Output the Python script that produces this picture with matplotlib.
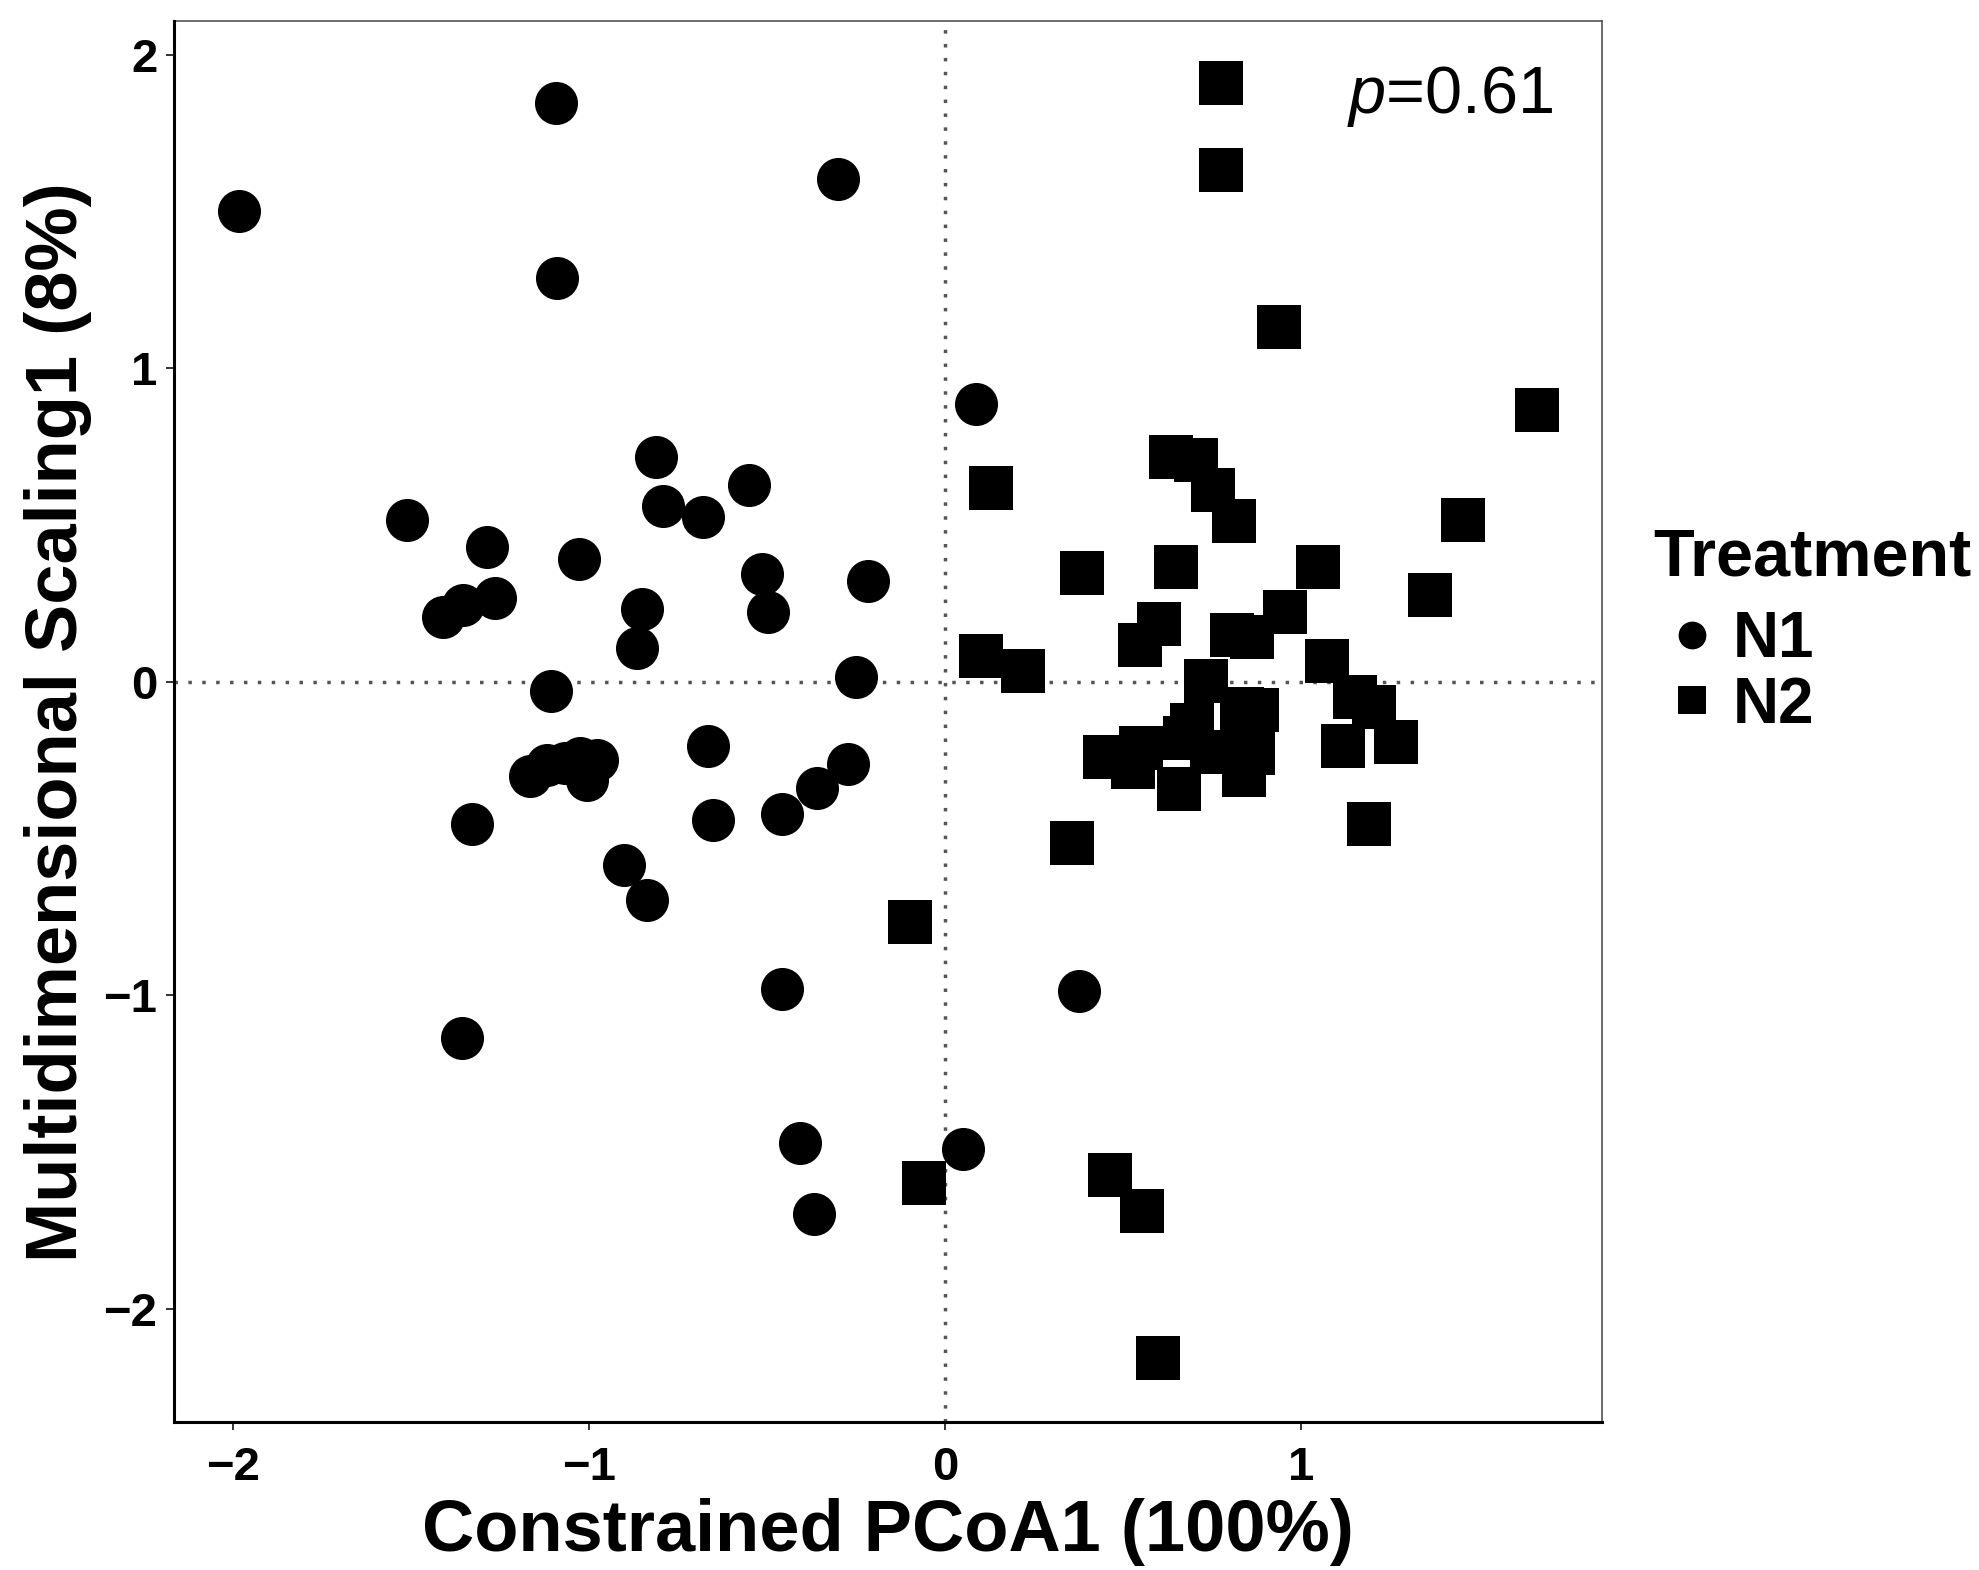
import matplotlib
matplotlib.use('Agg')
import matplotlib.pyplot as plt
from matplotlib.lines import Line2D
import numpy as np

plt.rcParams['font.family'] = ['Liberation Sans', 'DejaVu Sans']
plt.rcParams['mathtext.fontset'] = 'custom'
plt.rcParams['mathtext.it'] = 'Liberation Sans:italic'
plt.rcParams['mathtext.rm'] = 'Liberation Sans'

###############################################################################
# Data
###############################################################################
n1_x = [-1.984, -1.094, -1.089, -0.301, 0.086, -1.510, -1.287, -1.409, -1.355,
        -1.264, -1.029, -0.813, -0.792, -0.681, -0.551, -0.513, -0.497, -0.851,
        -0.864, -0.215, -0.249, -1.108, -1.166, -1.119, -1.067, -1.025, -0.978,
        -1.006, -1.328, -0.665, -0.652, -0.457, -0.361, -0.272, -0.902, -0.837,
        -0.457, -1.358, 0.376, -0.407, -0.367, 0.051]
n1_y = [1.501, 1.845, 1.287, 1.604, 0.886, 0.516, 0.430, 0.208, 0.244,
        0.266, 0.390, 0.718, 0.561, 0.526, 0.627, 0.345, 0.221, 0.233,
        0.109, 0.322, 0.016, -0.028, -0.301, -0.265, -0.260, -0.244, -0.250,
        -0.313, -0.455, -0.205, -0.442, -0.423, -0.338, -0.262, -0.584, -0.695,
        -0.979, -1.136, -0.988, -1.471, -1.697, -1.490]
n2_x = [0.774, 0.774, 0.939, 1.663, 0.129, 0.635, 0.705, 0.753, 0.813, 1.455,
        0.384, 0.649, 1.047, 1.362, 0.600, 0.547, 0.805, 0.863, 0.954, 1.073,
        0.734, 1.151, 1.205, 1.117, 1.267, 0.833, 0.876, 0.695, 0.675, 0.751,
        0.866, 0.449, 0.551, 0.527, 0.657, 0.840, 1.192,
        0.100, 0.218, 0.357, -0.099, -0.059, 0.463, 0.554, 0.598]
n2_y = [1.910, 1.632, 1.132, 0.866, 0.618, 0.716, 0.706, 0.613, 0.514, 0.516,
        0.346, 0.367, 0.367, 0.278, 0.184, 0.116, 0.150, 0.144, 0.224, 0.066,
        0.002, -0.049, -0.080, -0.206, -0.192, -0.086, -0.089, -0.138, -0.180, -0.223,
        -0.228, -0.241, -0.211, -0.273, -0.341, -0.297, -0.454,
        0.083, 0.035, -0.513, -0.766, -1.598, -1.575, -1.689, -2.159]
groups = ['N1', 'N2']
p_label = r'$\mathit{p}$=0.61'
x_title = 'Constrained PCoA1 (100%)'
y_title = 'Multidimensional Scaling1 (8%)'
x_ticks = [-2, -1, 0, 1]
y_ticks = [-2, -1, 0, 1, 2]

###############################################################################
# Plot
###############################################################################
W, H = 1979, 1570
fig = plt.figure(figsize=(W / 100, H / 100), dpi=100)
ax = fig.add_axes([173.6 / W, 1 - 1422.4 / H, (1601.8 - 173.6) / W, (1422.4 - 21) / H])

ax.axvline(0, color='#555555', lw=2.5, ls=(0, (1, 3)), zorder=1)
ax.axhline(0, color='#555555', lw=2.5, ls=(0, (1, 3)), zorder=1)

ax.scatter(n1_x, n1_y, marker='o', s=31 ** 2, color='black', linewidths=0, zorder=3)
ax.scatter(n2_x, n2_y, marker='s', s=31 ** 2, color='black', linewidths=0, zorder=3)

ax.set_xlim(-2.167, 1.845)
ax.set_ylim(-2.363, 2.108)
ax.set_xticks(x_ticks)
ax.set_yticks(y_ticks)

for s in ['left', 'bottom']:
    ax.spines[s].set_linewidth(2.2)
    ax.spines[s].set_color('black')
    ax.spines[s].set_zorder(5)
for s in ['top', 'right']:
    ax.spines[s].set_linewidth(1.1)
    ax.spines[s].set_color('#444444')

ax.tick_params(axis='both', length=5.8, width=1.4, color='#333333',
               labelsize=34, labelcolor='black')
ax.tick_params(axis='x', pad=11)
ax.tick_params(axis='y', pad=6)
for lab in ax.get_xticklabels() + ax.get_yticklabels():
    lab.set_fontweight('bold')

ax.set_xlabel(x_title, fontsize=52, fontweight='bold', labelpad=6)
ax.set_ylabel(y_title, fontsize=52, fontweight='bold', labelpad=8)

ax.text(1.418, 1.816, p_label, fontsize=48, ha='center', va='baseline')

# legend
fig.text(1653 / W, 1 - 575 / H, 'Treatment', fontsize=48, fontweight='bold',
         ha='left', va='baseline')
for (lab, mk, yc, yb) in [(groups[0], 'o', 635, 657), (groups[1], 's', 700, 723)]:
    fig.add_artist(Line2D([1692 / W], [1 - yc / H], marker=mk, markersize=20,
                          color='black', markeredgewidth=0, linestyle='none'))
    fig.text(1733 / W, 1 - yb / H, lab, fontsize=46, fontweight='bold',
             ha='left', va='baseline')

fig.savefig('out.png', dpi=100, facecolor='white')
